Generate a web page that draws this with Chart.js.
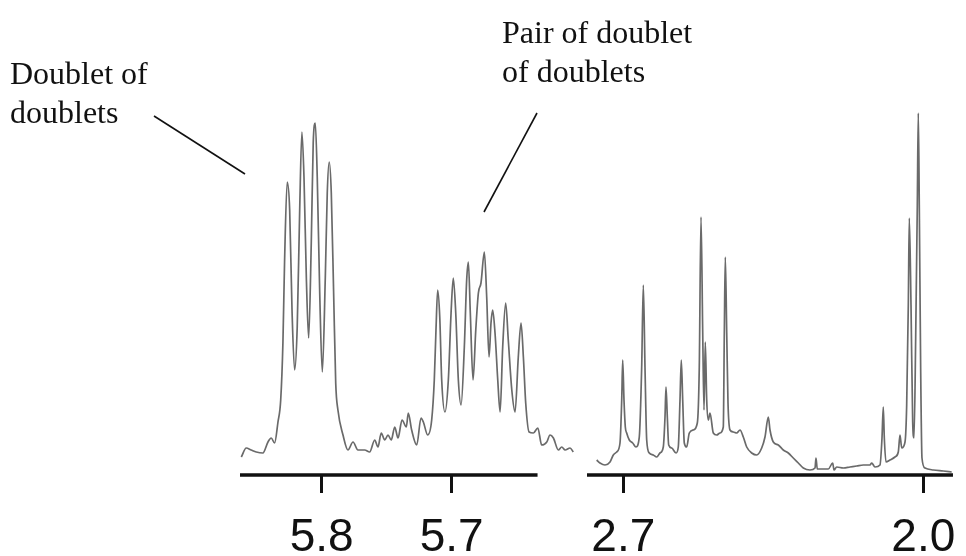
<!DOCTYPE html>
<html>
<head>
<meta charset="utf-8">
<script src="https://cdn.jsdelivr.net/npm/chart.js@4.4.1/dist/chart.umd.min.js"></script>
<style>
  body { margin: 0; background: #fff; }
  #wrap { position: relative; width: 966px; height: 556px; overflow: hidden; }
  canvas { position: absolute; left: 0; top: 0; }
  .note { position: absolute; font-family: "Liberation Serif", "Times New Roman", serif; font-size: 32px; line-height: 39px; color: #111; white-space: nowrap; }
  svg { position: absolute; left: 0; top: 0; }
</style>
</head>
<body>
<div id="wrap">
  <canvas id="leftChart" width="966" height="556"></canvas>
  <canvas id="rightChart" width="1100" height="556"></canvas>
  <svg width="966" height="556">
    <line x1="154" y1="116" x2="245" y2="174" stroke="#111" stroke-width="1.6"/>
    <line x1="537" y1="113" x2="484" y2="212" stroke="#111" stroke-width="1.6"/>
  </svg>
  <div class="note" style="left:10px; top:54px;">Doublet of<br>doublets</div>
  <div class="note" style="left:502px; top:13px;">Pair of doublet<br>of doublets</div>
</div>

<script>
// olefinic region (ppm) and intensity
const leftPpm = [
  5.8618, 5.8580, 5.8542, 5.8503, 5.8452, 5.8413, 5.8388, 5.8362, 5.8336, 5.8315,
  5.8298, 5.8285, 5.8265, 5.8246, 5.8228, 5.8208, 5.8188, 5.8169, 5.8152, 5.8136,
  5.8118, 5.8100, 5.8080, 5.8065, 5.8049, 5.8034, 5.8015, 5.7995, 5.7972, 5.7957,
  5.7942, 5.7926, 5.7908, 5.7892, 5.7875, 5.7836, 5.7798, 5.7759, 5.7721, 5.7669,
  5.7631, 5.7592, 5.7567, 5.7542, 5.7515, 5.7490, 5.7465, 5.7438, 5.7413, 5.7382,
  5.7349, 5.7334, 5.7308, 5.7269, 5.7236, 5.7218, 5.7185, 5.7154, 5.7134, 5.7121,
  5.7108, 5.7092, 5.7077, 5.7052, 5.7026, 5.7005, 5.6988, 5.6969, 5.6949, 5.6928,
  5.6903, 5.6885, 5.6872, 5.6857, 5.6836, 5.6815, 5.6795, 5.6775, 5.6749, 5.6731,
  5.6713, 5.6698, 5.6685, 5.6667, 5.6646, 5.6628, 5.6608, 5.6585, 5.6565, 5.6538,
  5.6513, 5.6488, 5.6467, 5.6449, 5.6431, 5.6405, 5.6372, 5.6338, 5.6308, 5.6269,
  5.6244, 5.6218, 5.6180, 5.6154, 5.6128, 5.6090, 5.6065
];
const leftIntensity = [
  18, 27, 25, 23, 22, 33, 37, 32, 53, 75,
  132, 215, 293, 265, 165, 105, 148, 265, 343, 298,
  198, 137, 232, 332, 352, 298, 182, 103, 198, 282,
  313, 282, 182, 92, 65, 40, 25, 33, 25, 25,
  23, 35, 28, 42, 35, 40, 35, 48, 37, 55,
  48, 62, 45, 30, 57, 53, 40, 55, 95, 145,
  185, 158, 95, 63, 95, 162, 197, 162, 95, 70,
  128, 195, 213, 162, 95, 145, 182, 192, 223, 178,
  118, 152, 165, 142, 95, 63, 128, 172, 135, 85,
  63, 118, 152, 118, 72, 43, 42, 47, 30, 33,
  40, 37, 25, 28, 25, 27, 23
];

// aliphatic region
const rightPpm = [
  2.7621, 2.7544, 2.7427, 2.7310, 2.7233, 2.7154, 2.7077, 2.7037, 2.7014, 2.6984,
  2.6953, 2.6921, 2.6860, 2.6781, 2.6704, 2.6627, 2.6571, 2.6533, 2.6494, 2.6454,
  2.6393, 2.6300, 2.6221, 2.6144, 2.6067, 2.6027, 2.6004, 2.5973, 2.5941, 2.5871,
  2.5770, 2.5717, 2.5677, 2.5647, 2.5614, 2.5577, 2.5521, 2.5460, 2.5367, 2.5273,
  2.5227, 2.5187, 2.5147, 2.5117, 2.5087, 2.5054, 2.5017, 2.4977, 2.4900, 2.4821,
  2.4744, 2.4667, 2.4643, 2.4620, 2.4587, 2.4557, 2.4510, 2.4433, 2.4354, 2.4277,
  2.4200, 2.4121, 2.4004, 2.3888, 2.3771, 2.3694, 2.3617, 2.3577, 2.3500, 2.3384,
  2.3267, 2.3150, 2.3034, 2.2917, 2.2800, 2.2644, 2.2527, 2.2504, 2.2474, 2.2334,
  2.2217, 2.2114, 2.2084, 2.2021, 2.1867, 2.1711, 2.1554, 2.1400, 2.1244, 2.1204,
  2.1127, 2.1011, 2.0964, 2.0934, 2.0910, 2.0871, 2.0777, 2.0661, 2.0584, 2.0544,
  2.0504, 2.0427, 2.0388, 2.0350, 2.0327, 2.0287, 2.0248, 2.0217, 2.0178, 2.0140,
  2.0117, 2.0094, 2.0061, 2.0031, 1.9961, 1.9767, 1.9534, 1.9338
];
const rightIntensity = [
  15, 12, 10, 13, 20, 23, 32, 75, 115, 75,
  48, 42, 35, 32, 28, 38, 108, 190, 108, 35,
  22, 20, 18, 22, 28, 58, 88, 58, 30, 27,
  22, 28, 75, 115, 75, 32, 28, 42, 45, 52,
  108, 258, 142, 65, 133, 75, 55, 62, 42, 40,
  42, 48, 142, 218, 142, 72, 45, 43, 42, 45,
  38, 28, 22, 20, 27, 38, 58, 45, 33, 30,
  25, 22, 17, 12, 7, 5, 7, 17, 6, 6,
  6, 12, 5, 8, 7, 8, 9, 10, 10, 12,
  8, 10, 37, 68, 37, 13, 15, 18, 23, 40,
  27, 33, 70, 170, 257, 170, 53, 37, 137, 270,
  362, 270, 103, 17, 7, 5, 4, 3
];

const leftTicks = [5.8, 5.7];
const rightTicks = [2.7, 2.0];

// draws the baseline rule only over the span that carries the ppm scale
const axisRule = {
  id: "axisRule",
  afterDraw(chart, args, opts) {
    const ctx = chart.ctx;
    const x = chart.scales.x;
    const y = chart.chartArea.bottom;
    ctx.save();
    ctx.strokeStyle = "#111";
    ctx.lineWidth = 3.5;
    ctx.beginPath();
    ctx.moveTo(x.getPixelForValue(opts.from), y);
    ctx.lineTo(x.getPixelForValue(opts.to), y);
    ctx.stroke();
    ctx.restore();
  }
};

function makeSpectrum(canvasId, ppm, intensity, ticks, range, rule, pad) {
  const points = ppm.map((p, i) => ({ x: p, y: intensity[i] }));
  return new Chart(document.getElementById(canvasId), {
    type: "line",
    data: {
      datasets: [{
        data: points,
        borderColor: "#6a6a6a",
        borderWidth: 1.7,
        pointRadius: 0,
        fill: false,
        cubicInterpolationMode: "monotone"
      }]
    },
    options: {
      responsive: false,
      animation: false,
      layout: { padding: pad },
      plugins: { legend: { display: false }, tooltip: { enabled: false }, axisRule: rule },
      scales: {
        x: {
          type: "linear",
          reverse: true,
          min: range[0],
          max: range[1],
          afterBuildTicks: scale => { scale.ticks = ticks.map(v => ({ value: v })); },
          afterFit: scale => { scale.height = 81; },
          border: { display: false },
          grid: { drawOnChartArea: false, drawTicks: true, tickLength: 18, tickWidth: 3, tickColor: "#111" },
          ticks: {
            padding: 18,
            color: "#111",
            font: { family: "'Liberation Sans', Arial, sans-serif", size: 46 },
            callback: v => Number(v).toFixed(1)
          }
        },
        y: { display: false, min: 0, max: 370 }
      }
    },
    plugins: [axisRule]
  });
}

makeSpectrum("leftChart", leftPpm, leftIntensity, leftTicks,
  [5.6052, 5.8628], { from: 5.8628, to: 5.634 },
  { left: 240, right: 391, top: 105, bottom: 0 });

// canvas is wider than the page so the "2.0" label never squeezes the plot area
makeSpectrum("rightChart", rightPpm, rightIntensity, rightTicks,
  [1.9284, 2.7847], { from: 2.7847, to: 1.9308 },
  { left: 587, right: 146, top: 105, bottom: 0 });
</script>
</body>
</html>
